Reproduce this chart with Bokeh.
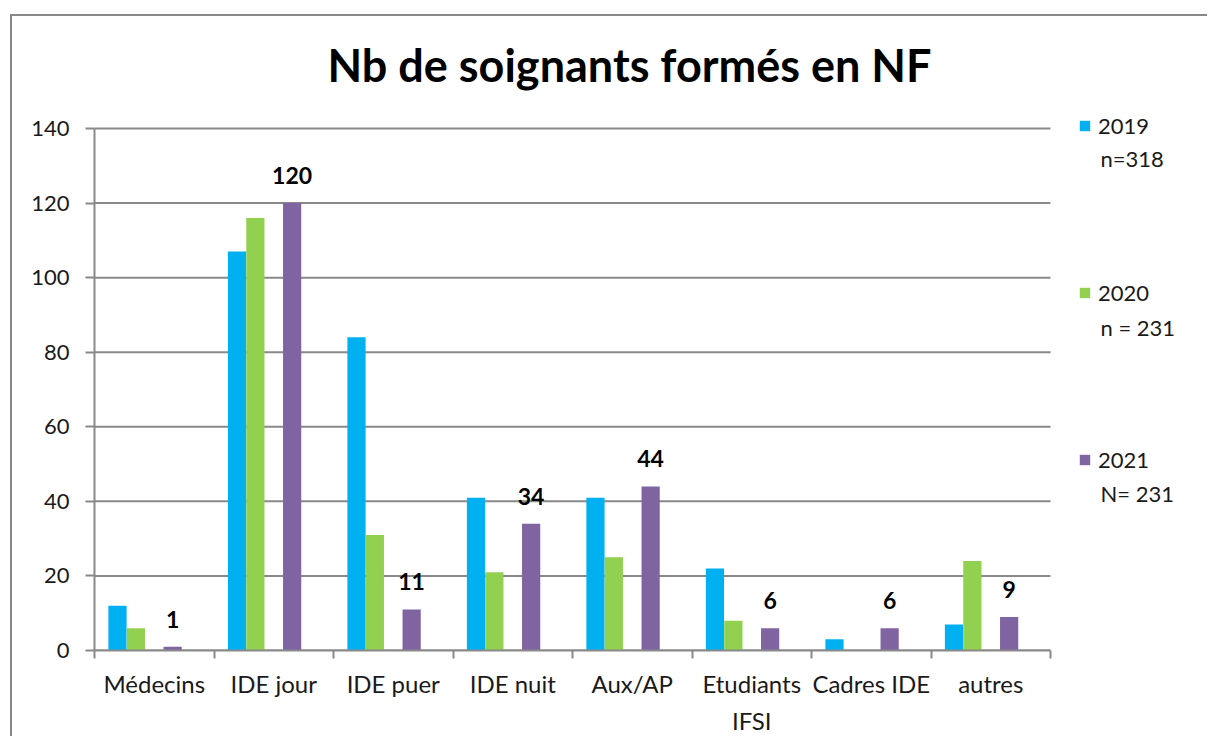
import numpy as np
from bokeh.plotting import figure
from bokeh.models import ColumnDataSource, Range1d, FixedTicker, LabelSet, Label, Legend, LegendItem
from bokeh.core.properties import value
from bokeh.embed import file_html
from bokeh.resources import INLINE

# ---- data ----
categories = ["Médecins", "IDE jour", "IDE puer", "IDE nuit", "Aux/AP",
              "Etudiants\nIFSI", "Cadres IDE", "autres"]
y2019 = [12, 107, 84, 41, 41, 22, 3, 7]
y2020 = [6, 116, 31, 21, 25, 8, 0, 24]
y2021 = [1, 120, 11, 34, 44, 6, 6, 9]
series_names = ["2019", "2020", "2021"]
series_counts = ["n=318", "n = 231", "N= 231"]
colors = ["#00B0F0", "#92D050", "#8064A2"]
y_ticks = [0, 20, 40, 60, 80, 100, 120, 140]
title_text = "Nb de soignants formés en NF"

FONT = "Lato"
GREY = "#898989"
TXT = "#1a1a1a"

n = len(categories)
y_max = y_ticks[-1]
slot = 1 / 6.5            # 5 slots per category + 150% gap
offsets = [-2 * slot, -slot, slot]
centers = np.arange(n) + 0.5

px_per_x = 956 / n
px_per_y = 522 / y_max

# frame spans the category area plus room on the right / top for the legend
x_end = n * (1209 - 94) / 956
y_end = y_max + 28 / px_per_y
p = figure(width=1197, height=722, x_range=Range1d(0, x_end), y_range=Range1d(0, y_end),
           output_backend="svg", toolbar_location=None,
           min_border_left=82, min_border_right=0, min_border_top=84, min_border_bottom=88)
p.margin = (14, 0, 0, 10)
p.styles = {"border-top": f"2px solid {GREY}", "border-left": f"2px solid {GREY}"}
p.outline_line_color = None
p.background_fill_color = "white"
p.border_fill_color = "white"

# horizontal gridlines limited to the category area
p.segment(x0=[0] * len(y_ticks), x1=[n] * len(y_ticks), y0=y_ticks, y1=y_ticks,
          line_color=GREY, line_width=2)

renderers = []
series = [y2019, y2020, y2021]
for vals, off, col in zip(series, offsets, colors):
    src = ColumnDataSource(dict(x=centers + off, top=vals,
                                label=[str(v) for v in vals]))
    r = p.vbar(x="x", top="top", width=slot * 0.99, source=src,
               fill_color=col, line_color=None)
    renderers.append((r, src))

# value labels for 2021
lbl = LabelSet(x="x", y="top", text="label", source=renderers[2][1],
               text_align="center", text_baseline="alphabetic", y_offset=19,
               text_font=value(FONT), text_font_style="bold", text_font_size="23px",
               text_color="black")
p.add_layout(lbl)

# axes
xa = p.xaxis[0]
xa.bounds = (0, n)
xa.ticker = FixedTicker(ticks=list(centers), minor_ticks=list(range(n + 1)))
xa.major_label_overrides = {float(c): cat for c, cat in zip(centers, categories)}
xa.major_tick_out = 0
xa.major_tick_in = 0
xa.minor_tick_out = 8
xa.minor_tick_in = 0
xa.minor_tick_line_color = GREY
xa.minor_tick_line_width = 2
xa.axis_line_color = GREY
xa.axis_line_width = 2
xa.major_label_text_font = FONT
xa.major_label_text_font_size = "24px"
xa.major_label_text_color = TXT
xa.major_label_text_line_height = 1.28
xa.major_label_standoff = 10

ya = p.yaxis[0]
ya.bounds = (0, y_max)
ya.ticker = FixedTicker(ticks=y_ticks, minor_ticks=[])
ya.major_tick_out = 9
ya.major_tick_in = 0
ya.major_tick_line_color = GREY
ya.major_tick_line_width = 2
ya.axis_line_color = GREY
ya.axis_line_width = 2
ya.major_label_text_font = FONT
ya.major_label_text_font_size = "22px"
ya.major_label_text_color = TXT
ya.major_label_standoff = 16

p.xgrid.grid_line_color = None
p.ygrid.grid_line_color = None

# title
p.title.text = title_text
p.title.text_font = FONT
p.title.text_font_style = "bold"
p.title.text_font_size = "45px"
p.title.text_color = "black"
p.title.align = "left"
p.title.offset = 233
p.title.standoff = 17

# legend (first line of each entry) + second lines as labels
legend = Legend(items=[LegendItem(label=lab, renderers=[r]) for lab, (r, _) in zip(series_names, renderers)],
                location=(984, 177), orientation="vertical",
                glyph_width=13, glyph_height=13, label_standoff=7,
                label_text_font=FONT, label_text_font_size="22px", label_text_color=TXT,
                label_height=26, spacing=140, padding=0, margin=0,
                border_line_color=None, background_fill_alpha=0)
p.add_layout(legend, "center")

count_centers_px = [158, 327, 493]
for txt, cy in zip(series_counts, count_centers_px):
    p.add_layout(Label(x=(1100 - 94) / px_per_x, y=(650 - cy) / px_per_y, text=txt,
                       text_font=FONT, text_font_size="22px", text_color=TXT,
                       text_baseline="middle", text_align="left"))

open("out.html", "w").write(file_html(p, INLINE))
